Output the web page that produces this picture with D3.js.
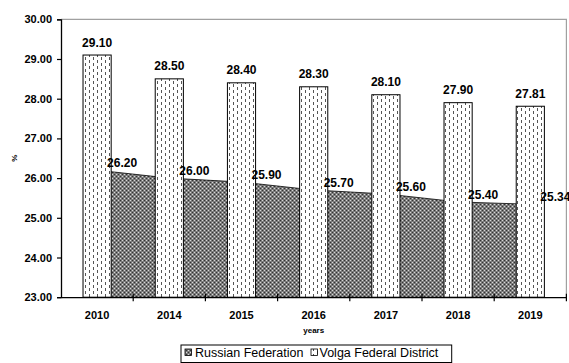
<!DOCTYPE html>
<html><head><meta charset="utf-8">
<script src="https://cdn.jsdelivr.net/npm/d3@7"></script>
<style>
html,body{margin:0;padding:0;background:#fff;}
svg{display:block;font-family:"Liberation Sans",Arial,sans-serif;}
</style></head>
<body>
<svg id="c" width="569" height="363"></svg>
<script>
const years = ["2010","2014","2015","2016","2017","2018","2019"];
const russia = [26.20,26.00,25.90,25.70,25.60,25.40,25.34];
const volga = [29.10,28.50,28.40,28.30,28.10,27.90,27.81];
const yTicks = [23,24,25,26,27,28,29,30];
const seriesNames = ["Russian Federation","Volga Federal District"];
const xTitle = "years", yTitle = "%";

const svg = d3.select("#c");
const L = 61, R = 566.4, T = 19.3, B = 297.2;
const x = d3.scaleBand().domain(years).range([L, R]).paddingInner(0).paddingOuter(0);
const y = d3.scaleLinear().domain([23, 30]).range([B, T]);
const cx = d => x(d) + x.bandwidth() / 2;

const defs = svg.append("defs");
const pa = defs.append("pattern").attr("id","pArea").attr("patternUnits","userSpaceOnUse")
  .attr("width",4).attr("height",4);
pa.append("rect").attr("width",4).attr("height",4).attr("fill","#7c7c7c");
pa.append("rect").attr("x",0).attr("y",0).attr("width",1).attr("height",1).attr("fill","#333");
pa.append("rect").attr("x",2).attr("y",2).attr("width",1).attr("height",1).attr("fill","#333");
pa.append("rect").attr("x",2).attr("y",0).attr("width",1).attr("height",1).attr("fill","#d8d8d8");
pa.append("rect").attr("x",0).attr("y",2).attr("width",1).attr("height",1).attr("fill","#d8d8d8");

const pb = defs.append("pattern").attr("id","pBar").attr("patternUnits","userSpaceOnUse")
  .attr("width",8).attr("height",6);
pb.append("rect").attr("width",8).attr("height",6).attr("fill","#fff");
pb.append("line").attr("x1",1.5).attr("x2",1.5).attr("y1",0).attr("y2",3).attr("stroke","#555").attr("stroke-width",1);
pb.append("line").attr("x1",5.5).attr("x2",5.5).attr("y1",3).attr("y2",6).attr("stroke","#555").attr("stroke-width",1);

// plot border (top/right)
svg.append("path").attr("d",`M${L},${T}H${R}V${B}`).attr("fill","none").attr("stroke","#a0a0a0").attr("stroke-width",1.2);

// area
const data = years.map((yr,i)=>({yr, r:russia[i], v:volga[i]}));
const area = d3.area().x(d=>cx(d.yr)).y0(y(23)).y1(d=>y(d.r));
svg.append("path").datum(data).attr("d",area).attr("fill","url(#pArea)").attr("stroke","#000").attr("stroke-width",0.8);

// bars
const bw = x.bandwidth()*0.39;
svg.selectAll("rect.bar").data(data).enter().append("rect").attr("class","bar")
  .attr("x",d=>cx(d.yr)-bw/2).attr("width",bw)
  .attr("y",d=>y(d.v)).attr("height",d=>y(23)-y(d.v))
  .attr("fill","url(#pBar)").attr("stroke","#000").attr("stroke-width",1);

// axes
const yAxis = d3.axisLeft(y).tickValues(yTicks).tickFormat(d3.format(".2f")).tickSize(4).tickPadding(5);
const gy = svg.append("g").attr("transform",`translate(${L},0)`).call(yAxis);
gy.select(".domain").attr("stroke","#000").attr("stroke-width",1.3);
gy.selectAll(".tick line").attr("stroke","#000").attr("stroke-width",1.2);
gy.selectAll(".tick text").attr("font-size",11).attr("font-weight","bold").attr("fill","#000")
  .attr("font-family","Liberation Sans, Arial, sans-serif");

const xAxis = d3.axisBottom(x).tickSize(0).tickPadding(14);
const gx = svg.append("g").attr("transform",`translate(0,${B})`).call(xAxis);
gx.select(".domain").attr("stroke","#000").attr("stroke-width",1.3);
gx.selectAll(".tick text").attr("font-size",11).attr("font-weight","bold").attr("fill","#000")
  .attr("font-family","Liberation Sans, Arial, sans-serif");
// category boundary ticks
const bounds = years.slice(1).map(d=>x(d)).concat([R]);
svg.selectAll("line.xt").data(bounds).enter().append("line").attr("class","xt")
  .attr("x1",d=>d).attr("x2",d=>d).attr("y1",B-3.5).attr("y2",B+4)
  .attr("stroke","#000").attr("stroke-width",1.2);

// labels
svg.selectAll("text.vl").data(data).enter().append("text").attr("class","vl")
  .attr("x",d=>cx(d.yr)).attr("y",d=>y(d.v)-8.5).attr("text-anchor","middle")
  .attr("font-size",12).attr("font-weight","bold").text(d=>d3.format(".2f")(d.v));
svg.selectAll("text.rl").data(data).enter().append("text").attr("class","rl")
  .attr("x",d=>cx(d.yr)+25).attr("y",d=>y(d.r)-3).attr("text-anchor","middle")
  .attr("font-size",12).attr("font-weight","bold").text(d=>d3.format(".2f")(d.r));

svg.append("text").attr("x",(L+R)/2).attr("y",333).attr("text-anchor","middle")
  .attr("font-size",8).attr("font-weight","bold").text(xTitle);
svg.append("text").attr("transform",`translate(17,${(T+B)/2}) rotate(-90)`).attr("text-anchor","middle")
  .attr("font-size",8).attr("font-weight","bold").text(yTitle);

// legend
const lg = svg.append("g");
lg.append("rect").attr("x",181).attr("y",345).attr("width",270.7).attr("height",17.5)
  .attr("fill","#fff").attr("stroke","#000").attr("stroke-width",1);
const items = [{name:seriesNames[0],fill:"url(#pArea)",sx:185,tx:195},{name:seriesNames[1],fill:"url(#pBar)",sx:311,tx:319.5}];
items.forEach(it=>{
  lg.append("rect").attr("x",it.sx).attr("y",349).attr("width",6.5).attr("height",6.5)
    .attr("fill",it.fill).attr("stroke","#000").attr("stroke-width",0.8);
  lg.append("text").attr("x",it.tx).attr("y",357).attr("font-size",12.5).attr("fill","#000").text(it.name);
});
</script>
</body></html>
